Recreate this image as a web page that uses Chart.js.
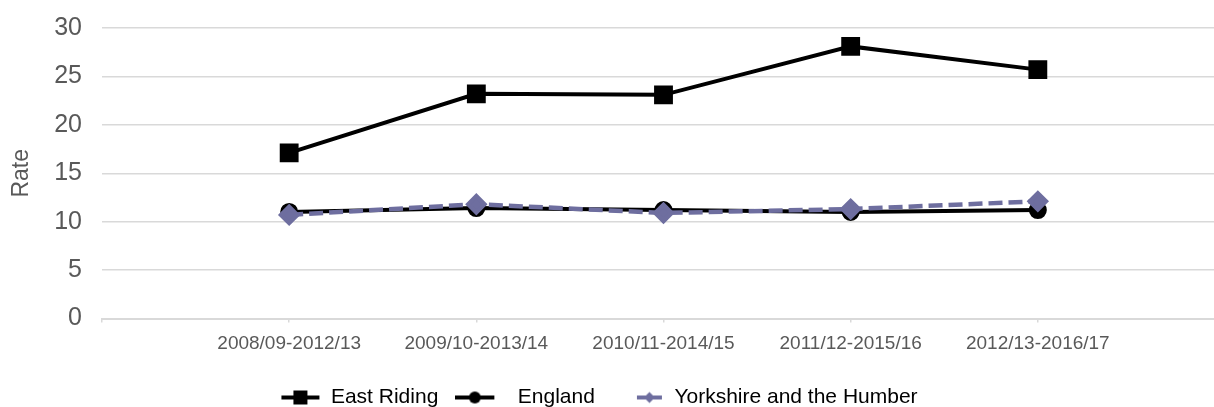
<!DOCTYPE html>
<html lang="en">
<head>
    <meta charset="UTF-8">
    <title>Rate - East Riding, England, Yorkshire and the Humber</title>
    <script src="https://cdn.jsdelivr.net/npm/chart.js"></script>
    <style>
        html, body {
            margin: 0;
            padding: 0;
            background: #fff;
            overflow: hidden;
        }
        #chartContainer {
            position: relative;
            width: 1240px;
            height: 418px;
        }
    </style>
</head>
<body>
    <div id="chartContainer">
        <canvas id="myChart"></canvas>
    </div>
    <script>
        // datos
        const periods = ['2008/09-2012/13', '2009/10-2013/14', '2010/11-2014/15', '2011/12-2015/16', '2012/13-2016/17'];
        const eastRiding = [17.1, 23.2, 23.1, 28.1, 25.7];
        const england = [11.0, 11.4, 11.2, 11.0, 11.2];
        const yorkshire = [10.7, 11.8, 10.9, 11.3, 12.1];
        const yTicks = [0, 5, 10, 15, 20, 25, 30];

        const purple = '#6E6E9F';

        // empty slot at each end, like the original axis
        const labels = [''].concat(periods, ['']);
        const pad = arr => [null].concat(arr, [null]);

        // legend icons: line + marker, drawn once on small canvases
        function legendIcon(kind) {
            const c = document.createElement('canvas');
            c.height = 18;
            const g = c.getContext('2d');
            if (kind === 'square') {
                c.width = 40;
                g.strokeStyle = '#000';
                g.lineWidth = 4;
                g.beginPath(); g.moveTo(1, 9); g.lineTo(39, 9); g.stroke();
                g.fillStyle = '#000';
                g.fillRect(13, 2, 14, 14);
            } else if (kind === 'circle') {
                c.width = 64;
                g.strokeStyle = '#000';
                g.lineWidth = 4;
                g.beginPath(); g.moveTo(0, 9); g.lineTo(39, 9); g.stroke();
                g.fillStyle = '#000';
                g.beginPath(); g.arc(19.5, 9, 6, 0, Math.PI * 2); g.fill();
            } else {
                c.width = 40;
                g.strokeStyle = purple;
                g.lineWidth = 4;
                g.beginPath(); g.moveTo(13, 9); g.lineTo(38, 9); g.stroke();
                g.fillStyle = purple;
                g.beginPath(); g.moveTo(25.5, 3.5); g.lineTo(31, 9); g.lineTo(25.5, 14.5); g.lineTo(20, 9); g.closePath(); g.fill();
            }
            return c;
        }

        const icons = [legendIcon('square'), legendIcon('circle'), legendIcon('diamond')];

        // the legend in the original sits a bit left of the canvas centre
        const shiftLegend = {
            id: 'shiftLegend',
            afterLayout(chart) {
                chart.legend.left -= 13.5;
                chart.legend.right -= 13.5;
            }
        };

        const ctx = document.getElementById('myChart').getContext('2d');
        new Chart(ctx, {
            type: 'line',
            data: {
                labels: labels,
                datasets: [
                    {
                        label: 'East Riding',
                        data: pad(eastRiding),
                        borderColor: '#000',
                        backgroundColor: '#000',
                        borderWidth: 4,
                        pointStyle: 'rect',
                        pointRadius: 10.5,
                        pointHoverRadius: 10.5,
                        order: 0
                    },
                    {
                        label: 'England',
                        data: pad(england),
                        borderColor: '#000',
                        backgroundColor: '#000',
                        borderWidth: 4,
                        pointStyle: 'circle',
                        pointRadius: 7,
                        pointHoverRadius: 7,
                        order: 2
                    },
                    {
                        label: 'Yorkshire and the Humber',
                        data: pad(yorkshire),
                        borderColor: purple,
                        backgroundColor: purple,
                        borderWidth: 4.5,
                        borderDash: [14, 6],
                        pointStyle: 'rectRot',
                        pointRadius: 8,
                        pointHoverRadius: 8,
                        order: 1
                    }
                ]
            },
            plugins: [shiftLegend],
            options: {
                responsive: true,
                maintainAspectRatio: false,
                animation: false,
                layout: {
                    padding: { top: 28, right: 15, bottom: 0, left: 0 }
                },
                plugins: {
                    tooltip: { enabled: false },
                    legend: {
                        position: 'bottom',
                        labels: {
                            usePointStyle: true,
                            pointStyleWidth: 40,
                            padding: 29,
                            color: '#000',
                            font: { family: 'Liberation Sans, Arial', size: 21 },
                            generateLabels: function(chart) {
                                return chart.data.datasets.map((ds, i) => ({
                                    text: ds.label,
                                    pointStyle: icons[i],
                                    fillStyle: ds.borderColor,
                                    strokeStyle: ds.borderColor,
                                    lineWidth: 0,
                                    fontColor: '#000',
                                    datasetIndex: i,
                                    hidden: false
                                }));
                            }
                        }
                    }
                },
                scales: {
                    x: {
                        offset: false,
                        grid: {
                            drawOnChartArea: false,
                            drawTicks: true,
                            tickLength: 4,
                            color: '#d9d9d9',
                            lineWidth: 1.5
                        },
                        border: { display: true, color: '#d9d9d9', width: 2 },
                        ticks: {
                            autoSkip: false,
                            maxRotation: 0,
                            minRotation: 0,
                            padding: 10,
                            color: '#595959',
                            font: { family: 'Liberation Sans, Arial', size: 19 }
                        },
                        afterFit: function(scale) {
                            scale.height = 39.5;
                        }
                    },
                    y: {
                        min: 0,
                        max: 30,
                        afterBuildTicks: function(scale) {
                            scale.ticks = yTicks.map(v => ({ value: v }));
                        },
                        grid: {
                            drawTicks: false,
                            color: '#d9d9d9',
                            lineWidth: 1.5
                        },
                        border: { display: false },
                        ticks: {
                            padding: 20,
                            color: '#595959',
                            font: { family: 'Liberation Sans, Arial', size: 25 }
                        },
                        title: {
                            display: true,
                            text: 'Rate',
                            color: '#595959',
                            padding: { top: 8, bottom: 0 },
                            font: { family: 'Liberation Sans, Arial', size: 23 }
                        },
                        afterFit: function(scale) {
                            scale.width = 102;
                            scale.paddingTop = 0;
                            scale.paddingBottom = 0;
                        }
                    }
                }
            }
        });
    </script>
</body>
</html>
